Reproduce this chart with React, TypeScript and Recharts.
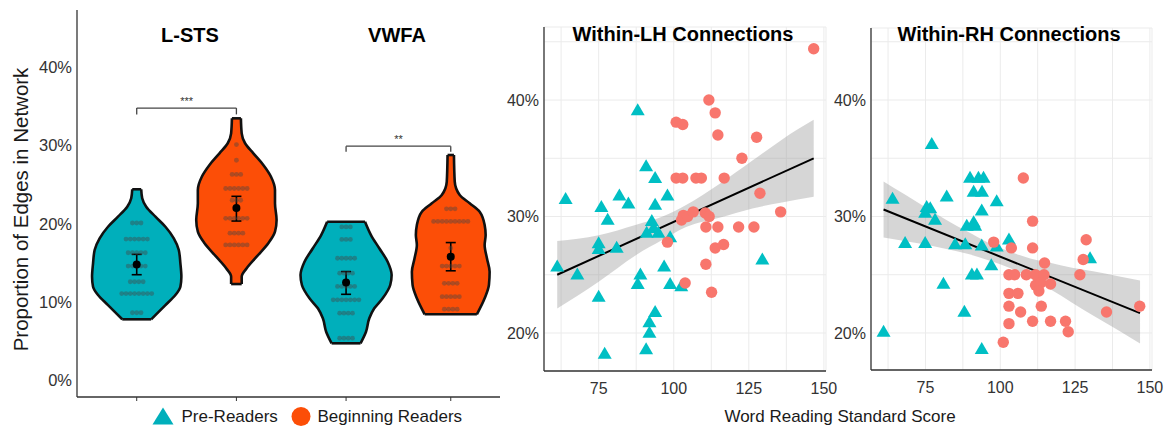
import React from 'react';
import {
  ComposedChart,
  Area,
  Scatter,
  Line,
  XAxis,
  YAxis,
  CartesianGrid,
  ReferenceLine,
  ErrorBar,
} from 'recharts';

const FONT = '"Liberation Sans", Arial, Helvetica, sans-serif';

// ---------------- Left panel: violins ----------------
const groupNames = ['Pre-Readers', 'Beginning Readers'];
const regionNames = ['L-STS', 'VWFA'];
const violinTicks = [0, 0.1, 0.2, 0.3, 0.4];

// outline of each violin: [proportion, density half width (category units)]
const outlinePreLSTS = [
  [0.244, 0.045], [0.2325, 0.055], [0.2218, 0.095], [0.209, 0.188], [0.1962, 0.288],
  [0.1814, 0.372], [0.1665, 0.422], [0.1495, 0.438], [0.1324, 0.448], [0.1197, 0.438],
  [0.1091, 0.388], [0.0963, 0.288], [0.0857, 0.205], [0.0781, 0.145],
];
const outlineBegLSTS = [
  [0.3345, 0.045], [0.3154, 0.053], [0.3027, 0.087], [0.2899, 0.17], [0.275, 0.27],
  [0.26, 0.347], [0.2431, 0.387], [0.2261, 0.387], [0.2048, 0.403], [0.1899, 0.387],
  [0.1751, 0.32], [0.158, 0.203], [0.1432, 0.103], [0.1324, 0.053], [0.1231, 0.053],
];
const outlinePreVWFA = [
  [0.2026, 0.19], [0.1856, 0.25], [0.1687, 0.333], [0.1516, 0.417], [0.1346, 0.457],
  [0.1219, 0.443], [0.1049, 0.367], [0.0921, 0.283], [0.0794, 0.233], [0.0623, 0.2],
  [0.0475, 0.145],
];
const outlineBegVWFA = [
  [0.2877, 0.032], [0.2537, 0.04], [0.2367, 0.09], [0.2261, 0.19], [0.2154, 0.29],
  [0.1984, 0.34], [0.1856, 0.35], [0.1729, 0.34], [0.1559, 0.363], [0.1388, 0.39],
  [0.1219, 0.383], [0.1049, 0.34], [0.0845, 0.262],
];

// dot plot rows: [proportion, number of children]
const dotRowsPreLSTS = [[0.201, 3], [0.1805, 6], [0.163, 5], [0.146, 5], [0.126, 4], [0.111, 8], [0.0865, 3]];
const dotRowsBegLSTS = [[0.301, 1], [0.281, 1], [0.263, 3], [0.245, 6], [0.23, 3], [0.207, 6], [0.188, 4], [0.173, 6]];
const dotRowsPreVWFA = [[0.196, 3], [0.18, 3], [0.156, 5], [0.137, 4], [0.12, 5], [0.103, 7], [0.086, 4], [0.054, 4]];
const dotRowsBegVWFA = [[0.219, 3], [0.203, 9], [0.169, 1], [0.146, 5], [0.124, 4], [0.107, 5], [0.091, 4]];

const meanValues = [0.148, 0.22, 0.125, 0.158];
const ciLow = [0.135, 0.2035, 0.11, 0.14];
const ciHigh = [0.161, 0.235, 0.139, 0.176];

const bracketLevels = [0.3476, 0.299];
const bracketTips = [0.3395, 0.292];
const bracketStars = ['***', '**'];

// ---------------- Right panels: scatter ----------------
const scoreTicks = [62.5, 75, 87.5, 100, 112.5, 125, 137.5, 150];
const propTicks = [0.2, 0.25, 0.3, 0.35, 0.4, 0.45];

const preLH = [
  [88.0, 0.392], [64.0, 0.316], [61.2, 0.258], [67.9, 0.251], [75.9, 0.309], [78.0, 0.298],
  [75.0, 0.278], [75.0, 0.273], [81.0, 0.274], [75.0, 0.232], [77.0, 0.183], [81.9, 0.319],
  [84.9, 0.312], [90.8, 0.344], [93.8, 0.334], [97.9, 0.319], [93.8, 0.311], [92.7, 0.297],
  [91.0, 0.287], [93.3, 0.291], [94.9, 0.287], [98.8, 0.283], [96.8, 0.258], [88.9, 0.251],
  [88.0, 0.243], [98.8, 0.243], [102.5, 0.241], [93.8, 0.219], [91.9, 0.21], [91.9, 0.201],
  [90.8, 0.187], [129.5, 0.264],
];
const begLH = [
  [146.6, 0.444], [111.7, 0.4], [113.8, 0.389], [100.8, 0.381], [103.0, 0.379], [114.7, 0.37],
  [127.6, 0.368], [122.7, 0.35], [100.8, 0.333], [103.0, 0.333], [107.4, 0.333], [109.2, 0.333],
  [116.8, 0.333], [128.7, 0.32], [135.6, 0.304], [102.6, 0.297], [103.2, 0.301], [104.6, 0.3],
  [106.5, 0.304], [110.5, 0.303], [111.8, 0.3], [110.7, 0.291], [114.7, 0.291], [121.6, 0.291],
  [126.7, 0.291], [113.8, 0.273], [116.6, 0.276], [110.7, 0.259], [103.8, 0.243], [112.6, 0.235],
  [97.9, 0.278],
];
const preRH = [
  [77.1, 0.363], [64.0, 0.316], [61.0, 0.202], [68.2, 0.278], [74.9, 0.278], [75.4, 0.309],
  [76.6, 0.308], [74.9, 0.304], [78.2, 0.298], [82.1, 0.318], [89.9, 0.334], [92.7, 0.334],
  [94.4, 0.334], [91.1, 0.322], [93.9, 0.322], [98.8, 0.314], [93.8, 0.306], [88.8, 0.293],
  [91.1, 0.296], [91.6, 0.293], [84.9, 0.277], [88.3, 0.277], [93.8, 0.276], [98.8, 0.275],
  [102.9, 0.281], [97.0, 0.259], [90.5, 0.251], [92.2, 0.251], [81.0, 0.243], [88.0, 0.219],
  [93.8, 0.187], [130.0, 0.265],
];
const begRH = [
  [107.7, 0.333], [110.8, 0.296], [97.8, 0.278], [103.7, 0.273], [110.8, 0.273], [128.7, 0.28],
  [127.7, 0.263], [114.8, 0.26], [102.9, 0.25], [104.8, 0.25], [108.7, 0.25], [111.8, 0.25],
  [114.6, 0.25], [126.6, 0.25], [111.8, 0.241], [113.5, 0.243], [116.8, 0.242], [112.9, 0.236],
  [102.9, 0.234], [105.9, 0.234], [102.9, 0.223], [113.7, 0.223], [106.8, 0.218], [135.5, 0.218],
  [146.6, 0.223], [102.9, 0.208], [110.8, 0.21], [116.8, 0.21], [121.8, 0.21], [122.7, 0.201],
  [101.0, 0.192],
];

const fitLH = [[61.2, 0.25], [146.6, 0.35]];
const fitRH = [[61.0, 0.306], [146.7, 0.217]];

// confidence band: [score, low, high]
const bandLH = [
  [61.2, 0.221, 0.279], [75, 0.244, 0.284], [87.5, 0.267, 0.293], [96.3, 0.28, 0.3],
  [104.1, 0.291, 0.31], [115.2, 0.299, 0.328], [126.2, 0.307, 0.348], [136, 0.312, 0.366],
  [146.6, 0.317, 0.383],
];
const bandRH = [
  [61, 0.282, 0.33], [68, 0.279, 0.319], [75, 0.276, 0.308], [82, 0.272, 0.297],
  [89, 0.268, 0.287], [96, 0.2625, 0.2775], [103, 0.256, 0.27], [110, 0.247, 0.264],
  [117, 0.237, 0.26], [124, 0.226, 0.256], [131, 0.215, 0.253], [139, 0.203, 0.249],
  [146.7, 0.191, 0.245],
];

// ---------------- layout / style ----------------
const SLOT_POS = [1, 2, 3.1, 4.15];
const DOT_STEP = 0.043;
const VIOLIN_FILL = ['#00AFBB', '#FC4E07'];
const TRI_COLOR = '#00BFC4';
const CIRC_COLOR = '#F8766D';
const AXIS = '#333333';
const OUTLINE_W = 2.6;

const violinOutlines = [outlinePreLSTS, outlineBegLSTS, outlinePreVWFA, outlineBegVWFA];
const violinDotRows = [dotRowsPreLSTS, dotRowsBegLSTS, dotRowsPreVWFA, dotRowsBegVWFA];

const violins = violinOutlines.map((outline, i) => {
  const c = SLOT_POS[i];
  return {
    fill: VIOLIN_FILL[i % 2],
    rows: outline.map(([v, hw]) => ({ y: v, range: [c - hw, c + hw] })),
    top: outline[0],
    bottom: outline[outline.length - 1],
    c,
  };
});

const violinDots = violinDotRows.flatMap((rows, i) =>
  rows.flatMap(([v, n]) =>
    Array.from({ length: n }, (_, k) => ({ x: SLOT_POS[i] + (k - (n - 1) / 2) * DOT_STEP, y: v }))
  )
);

const meanPoints = meanValues.map((m, i) => ({
  x: SLOT_POS[i],
  y: m,
  err: [m - ciLow[i], ciHigh[i] - m],
}));

const toXY = (arr) => arr.map(([x, y]) => ({ x, y }));
const toBand = (arr) => arr.map(([x, lo, hi]) => ({ x, band: [lo, hi] }));

const pct = (v) => `${Math.round(v * 100)}%`;
const majorPct = (v) => (Math.abs(v * 10 - Math.round(v * 10)) < 1e-6 ? pct(v) : '');
const scoreFmt = (v) => (v % 25 === 0 ? String(v) : '');

const renderTri = (p) => {
  const { cx, cy } = p;
  if (cx == null || cy == null) return null;
  return <polygon points={`${cx},${cy - 6} ${cx + 7},${cy + 6} ${cx - 7},${cy + 6}`} fill={TRI_COLOR} />;
};
const renderCirc = (p) => {
  const { cx, cy } = p;
  if (cx == null || cy == null) return null;
  return <circle cx={cx} cy={cy} r={5.7} fill={CIRC_COLOR} />;
};
const renderViolinDot = (p) => {
  const { cx, cy } = p;
  if (cx == null || cy == null) return null;
  return <circle cx={cx} cy={cy} r={2.4} fill="#444444" fillOpacity={0.42} />;
};
const renderMean = (p) => {
  const { cx, cy } = p;
  if (cx == null || cy == null) return null;
  return <circle cx={cx} cy={cy} r={4} fill="#000" />;
};

function ViolinPanel() {
  return (
    <ComposedChart width={510} height={429} layout="vertical" margin={{ top: 10, right: 10, bottom: 20, left: 0 }}>
      <XAxis
        type="number"
        dataKey="x"
        domain={[0.401, 4.644]}
        allowDataOverflow
        ticks={SLOT_POS}
        tickFormatter={() => ''}
        interval={0}
        tickSize={4}
        tickLine={{ stroke: AXIS }}
        axisLine={{ stroke: AXIS, strokeWidth: 1.3 }}
        height={12}
      />
      <YAxis
        type="number"
        dataKey="y"
        reversed
        domain={[-0.021, 0.4727]}
        allowDataOverflow
        ticks={violinTicks}
        tickFormatter={pct}
        interval={0}
        width={77}
        tickLine={false}
        tickSize={3}
        tickMargin={2}
        axisLine={{ stroke: AXIS, strokeWidth: 1.3 }}
        tick={{ fill: AXIS, fontSize: 16.5 }}
      />
      {violins.map((v, i) => (
        <Area
          key={`violin-${i}`}
          data={v.rows}
          dataKey="range"
          type="monotone"
          fill={v.fill}
          fillOpacity={1}
          stroke="#111"
          strokeWidth={OUTLINE_W}
          dot={false}
          activeDot={false}
          isAnimationActive={false}
        />
      ))}
      {violins.map((v, i) => (
        <ReferenceLine
          key={`top-${i}`}
          segment={[{ x: v.c - v.top[1], y: v.top[0] }, { x: v.c + v.top[1], y: v.top[0] }]}
          stroke="#111"
          strokeWidth={OUTLINE_W}
        />
      ))}
      {violins.map((v, i) => (
        <ReferenceLine
          key={`bot-${i}`}
          segment={[{ x: v.c - v.bottom[1], y: v.bottom[0] }, { x: v.c + v.bottom[1], y: v.bottom[0] }]}
          stroke="#111"
          strokeWidth={OUTLINE_W}
        />
      ))}
      <Scatter data={violinDots} shape={renderViolinDot} isAnimationActive={false} />
      <Scatter data={meanPoints} shape={renderMean} isAnimationActive={false}>
        <ErrorBar dataKey="err" direction="y" width={5} stroke="#000" strokeWidth={1.6} />
      </Scatter>
      {bracketLevels.map((lvl, i) => {
        const a = SLOT_POS[2 * i];
        const b = SLOT_POS[2 * i + 1];
        return (
          <ReferenceLine
            key={`br-h-${i}`}
            segment={[{ x: a, y: lvl }, { x: b, y: lvl }]}
            stroke="#444"
            strokeWidth={1.3}
            label={{ value: bracketStars[i], position: 'top', fontSize: 11, fill: '#333', offset: 3 }}
          />
        );
      })}
      {bracketLevels.map((lvl, i) => (
        <ReferenceLine
          key={`br-l-${i}`}
          segment={[{ x: SLOT_POS[2 * i], y: lvl }, { x: SLOT_POS[2 * i], y: bracketTips[i] }]}
          stroke="#444"
          strokeWidth={1.3}
        />
      ))}
      {bracketLevels.map((lvl, i) => (
        <ReferenceLine
          key={`br-r-${i}`}
          segment={[{ x: SLOT_POS[2 * i + 1], y: lvl }, { x: SLOT_POS[2 * i + 1], y: bracketTips[i] }]}
          stroke="#444"
          strokeWidth={1.3}
        />
      ))}
    </ComposedChart>
  );
}

function ScatterPanel({ width, yAxisWidth, margin, yDomain, pre, beg, fit, band }) {
  return (
    <ComposedChart width={width} height={429} margin={margin}>
      <CartesianGrid stroke="#ebebeb" strokeWidth={1} />
      <XAxis
        type="number"
        dataKey="x"
        domain={[56.8, 150.7]}
        allowDataOverflow
        ticks={scoreTicks}
        tickFormatter={scoreFmt}
        interval={0}
        tickLine={false}
        tickSize={8}
        tickMargin={4}
        height={30}
        axisLine={{ stroke: AXIS, strokeWidth: 1.3 }}
        tick={{ fill: AXIS, fontSize: 16 }}
      />
      <YAxis
        type="number"
        dataKey="y"
        domain={yDomain}
        allowDataOverflow
        ticks={propTicks}
        tickFormatter={majorPct}
        interval={0}
        tickLine={false}
        tickSize={3}
        tickMargin={2}
        width={yAxisWidth}
        axisLine={{ stroke: AXIS, strokeWidth: 1.3 }}
        tick={{ fill: AXIS, fontSize: 16 }}
      />
      <Area
        data={toBand(band)}
        dataKey="band"
        type="monotone"
        fill="#999999"
        fillOpacity={0.4}
        stroke="none"
        dot={false}
        activeDot={false}
        isAnimationActive={false}
      />
      <Line
        data={toXY(fit)}
        dataKey="y"
        type="linear"
        stroke="#000"
        strokeWidth={2}
        dot={false}
        activeDot={false}
        isAnimationActive={false}
      />
      <Scatter data={toXY(pre)} shape={renderTri} isAnimationActive={false} />
      <Scatter data={toXY(beg)} shape={renderCirc} isAnimationActive={false} />
    </ComposedChart>
  );
}

export default function App() {
  return (
    <div
      style={{
        position: 'absolute',
        left: 0,
        top: 0,
        width: 1164,
        height: 429,
        background: '#fff',
        fontFamily: FONT,
        overflow: 'hidden',
      }}
    >
      <div style={{ position: 'absolute', left: 0, top: 0 }}>
        <ViolinPanel />
      </div>
      <div style={{ position: 'absolute', left: 470, top: 0 }}>
        <ScatterPanel
          width={370}
          yAxisWidth={74}
          margin={{ top: 27, right: 14, bottom: 28, left: 0 }}
          yDomain={[0.1674, 0.4627]}
          pre={preLH}
          beg={begLH}
          fit={fitLH}
          band={bandLH}
        />
      </div>
      <div style={{ position: 'absolute', left: 800, top: 0 }}>
        <ScatterPanel
          width={364}
          yAxisWidth={71}
          margin={{ top: 28, right: 12, bottom: 29, left: 0 }}
          yDomain={[0.1682, 0.4618]}
          pre={preRH}
          beg={begRH}
          fit={fitRH}
          band={bandRH}
        />
      </div>
      <svg
        width={1164}
        height={429}
        style={{ position: 'absolute', left: 0, top: 0, pointerEvents: 'none' }}
        fontFamily={FONT}
      >
        <text transform="translate(28,209.5) rotate(-90)" textAnchor="middle" fontSize={20.5} fill="#1a1a1a">
          Proportion of Edges in Network
        </text>
        <text x={190} y={42} textAnchor="middle" fontSize={20} fontWeight="bold" fill="#000">
          {regionNames[0]}
        </text>
        <text x={397} y={42} textAnchor="middle" fontSize={20} fontWeight="bold" fill="#000">
          {regionNames[1]}
        </text>
        <text x={683} y={41} textAnchor="middle" fontSize={20} fontWeight="bold" fill="#000">
          Within-LH Connections
        </text>
        <text x={1009} y={41} textAnchor="middle" fontSize={20} fontWeight="bold" fill="#000">
          Within-RH Connections
        </text>
        <text x={840} y={421.5} textAnchor="middle" fontSize={17} fill="#1a1a1a">
          Word Reading Standard Score
        </text>
        <polygon points="163,407.5 173.5,424.5 152.5,424.5" fill={VIOLIN_FILL[0]} />
        <text x={181.5} y={422} fontSize={17} fill="#1a1a1a">
          {groupNames[0]}
        </text>
        <circle cx={301} cy={416.5} r={9.5} fill={VIOLIN_FILL[1]} />
        <text x={317.5} y={422} fontSize={17} fill="#1a1a1a">
          {groupNames[1]}
        </text>
      </svg>
    </div>
  );
}
